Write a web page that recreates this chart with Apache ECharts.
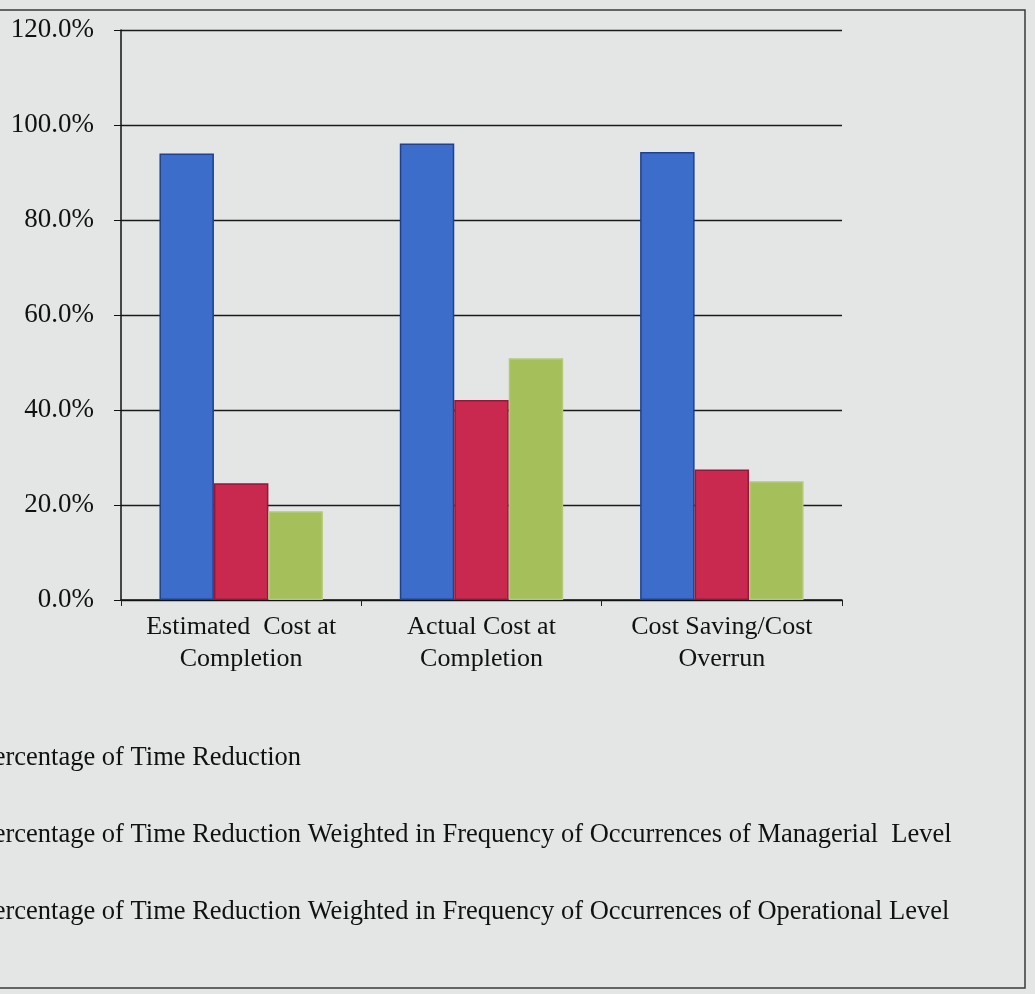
<!DOCTYPE html>
<html>
<head>
<meta charset="utf-8">
<script src="https://cdn.jsdelivr.net/npm/echarts@6/dist/echarts.min.js"></script>
<style>
  html, body { margin: 0; padding: 0; background: #e4e6e6; }
  #chart { width: 1035px; height: 994px; }
</style>
</head>
<body>
<div id="chart"></div>
<script>
// values, in percent
var categories = ['Estimated  Cost at\nCompletion', 'Actual Cost at\nCompletion', 'Cost Saving/Cost\nOverrun'];
var seriesNames = [
    'Percentage of Time Reduction',
    'Percentage of Time Reduction Weighted in Frequency of Occurrences of Managerial  Level',
    'Percentage of Time Reduction Weighted in Frequency of Occurrences of Operational Level'
];
var timeReduction = [94.0, 96.1, 94.3];
var managerialLevel = [24.6, 42.1, 27.5];
var operationalLevel = [18.7, 50.9, 25.0];
var yTicks = [0, 20, 40, 60, 80, 100, 120];

var colors = ['#3d6dcb', '#c9284f', '#a5bf5a'];
var borders = ['#1f418f', '#93193a', '#b4c977'];
var serif = '"Liberation Serif", "Times New Roman", serif';

var myChart = echarts.init(document.getElementById('chart'));

function makeSeries(i, data) {
    return {
        name: seriesNames[i],
        type: 'bar',
        data: data,
        barGap: '0%',
        barCategoryGap: '32%',
        itemStyle: { color: colors[i], borderColor: borders[i], borderWidth: 1.5 }
    };
}

myChart.setOption({
    backgroundColor: '#e4e6e6',
    animation: false,
    textStyle: { fontFamily: serif },
    grid: { left: 121, right: 193, top: 30, bottom: 394 },
    legend: {
        orient: 'vertical',
        left: -50,
        top: 738,
        itemWidth: 18,
        itemHeight: 14,
        itemGap: 47,
        icon: 'rect',
        textStyle: { fontFamily: serif, fontSize: 26.5, lineHeight: 30, color: '#111' },
        data: seriesNames
    },
    xAxis: {
        type: 'category',
        data: categories,
        axisLine: { lineStyle: { color: '#111', width: 1.5 } },
        axisTick: { show: true, length: 6, lineStyle: { color: '#222' } },
        axisLabel: {
            fontFamily: serif, fontSize: 26, lineHeight: 32, color: '#111',
            margin: 11, interval: 0
        }
    },
    yAxis: {
        type: 'value',
        min: yTicks[0],
        max: yTicks[yTicks.length - 1],
        interval: yTicks[1] - yTicks[0],
        axisLine: { show: true, lineStyle: { color: '#111', width: 1.5 } },
        axisTick: { show: true, length: 7, lineStyle: { color: '#111' } },
        axisLabel: {
            fontFamily: serif, fontSize: 27, color: '#111', margin: 27,
            formatter: function (v) { return v.toFixed(1) + '%'; }
        },
        splitLine: { lineStyle: { color: '#1a1a1a', width: 1.3 } }
    },
    graphic: [{
        type: 'rect',
        silent: true,
        shape: { x: -10, y: 10, width: 1035, height: 978 },
        style: { fill: null, stroke: '#3a3a3a', lineWidth: 1.5 }
    }],
    series: [
        makeSeries(0, timeReduction),
        makeSeries(1, managerialLevel),
        makeSeries(2, operationalLevel)
    ]
});
</script>
</body>
</html>
